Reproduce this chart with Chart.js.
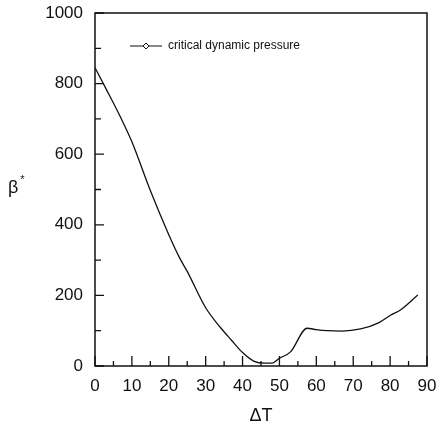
<!DOCTYPE html>
<html>
<head>
<meta charset="utf-8">
<script src="https://cdn.jsdelivr.net/npm/chart.js@4/dist/chart.umd.min.js"></script>
<style>
  html, body { margin: 0; padding: 0; background: #fff; }
  canvas { display: block; }
</style>
</head>
<body>
<canvas id="beta" width="437" height="432"></canvas>
<script>
// values
var deltaT = [0, 3, 7, 10, 15, 20, 23, 25, 30, 34, 37, 40, 43, 46, 48, 50, 53, 57.5, 60, 63, 67, 72, 77, 80, 83, 87.5];
var betaStar = [845, 785, 703, 635, 497, 372, 305, 268, 165, 109, 73, 38, 14, 8, 8, 22, 40, 107, 103, 100, 99, 105, 123, 143, 160, 201];

var xTicks = [0, 10, 20, 30, 40, 50, 60, 70, 80, 90];
var xMinor = [5, 15, 25, 35, 45, 55, 65, 75, 85];
var yTicks = [0, 200, 400, 600, 800, 1000];
var yMinor = [100, 300, 500, 700, 900];

var seriesLabel = 'critical dynamic pressure';
var xTitle = 'ΔT';
var yTitle = 'β';
var yTitleSup = '*';

var ink = '#111';
var font = 'Arial, "Liberation Sans", sans-serif';

// frame, inward ticks, axis titles and the boxed-in legend
var decorations = {
  id: 'decorations',
  afterDraw(chart) {
    var ctx = chart.ctx, a = chart.chartArea;
    var xs = chart.scales.x, ys = chart.scales.y;
    ctx.save();
    ctx.strokeStyle = ink;
    ctx.lineWidth = 1.5;
    ctx.strokeRect(a.left, a.top, a.right - a.left, a.bottom - a.top);

    ctx.lineWidth = 1.3;
    ctx.beginPath();
    xTicks.forEach(v => { var p = xs.getPixelForValue(v); ctx.moveTo(p, a.bottom); ctx.lineTo(p, a.bottom - 10); });
    xMinor.forEach(v => { var p = xs.getPixelForValue(v); ctx.moveTo(p, a.bottom); ctx.lineTo(p, a.bottom - 5); });
    yTicks.forEach(v => { var p = ys.getPixelForValue(v); ctx.moveTo(a.left, p); ctx.lineTo(a.left + 9, p); });
    yMinor.forEach(v => { var p = ys.getPixelForValue(v); ctx.moveTo(a.left, p); ctx.lineTo(a.left + 6, p); });
    ctx.stroke();

    // axis titles
    ctx.fillStyle = ink;
    ctx.textBaseline = 'middle';
    ctx.textAlign = 'center';
    ctx.font = '18px ' + font;
    ctx.fillText(xTitle, (a.left + a.right) / 2, 416);
    ctx.textAlign = 'left';
    ctx.fillText(yTitle, 8, 188);
    var bw = ctx.measureText(yTitle).width;
    ctx.font = '11px ' + font;
    ctx.fillText(yTitleSup, 8 + bw + 2, 180);

    // legend
    var ly = 46;
    ctx.lineWidth = 1;
    ctx.beginPath();
    ctx.moveTo(130, ly); ctx.lineTo(162, ly);
    ctx.stroke();
    ctx.beginPath();
    ctx.moveTo(146, ly - 3); ctx.lineTo(149, ly); ctx.lineTo(146, ly + 3); ctx.lineTo(143, ly); ctx.closePath();
    ctx.fillStyle = '#fff';
    ctx.fill();
    ctx.stroke();
    ctx.fillStyle = ink;
    ctx.font = '12px ' + font;
    ctx.fillText(seriesLabel, 168, ly);
    ctx.restore();
  }
};

new Chart('beta', {
  type: 'line',
  data: {
    datasets: [{
      label: seriesLabel,
      data: deltaT.map((x, i) => ({x: x, y: betaStar[i]})),
      borderColor: ink,
      borderWidth: 1.3,
      pointRadius: 0,
      cubicInterpolationMode: 'monotone',
      fill: false
    }]
  },
  options: {
    responsive: false,
    animation: false,
    layout: { padding: { top: 13, right: 10, left: 0, bottom: 0 } },
    plugins: { legend: { display: false }, tooltip: { enabled: false } },
    scales: {
      x: {
        type: 'linear',
        min: 0, max: 90,
        afterFit(scale) { scale.height = 66; scale.paddingLeft = 0; scale.paddingRight = 0; },
        afterBuildTicks(scale) { scale.ticks = xTicks.map(v => ({value: v})); },
        grid: { display: false, drawTicks: false },
        border: { display: false },
        ticks: { color: ink, font: { family: font, size: 17 }, padding: 10, maxRotation: 0, callback: v => String(v) }
      },
      y: {
        min: 0, max: 1000,
        afterFit(scale) { scale.width = 95; scale.paddingTop = 0; scale.paddingBottom = 0; },
        afterBuildTicks(scale) { scale.ticks = yTicks.map(v => ({value: v})); },
        grid: { display: false, drawTicks: false },
        border: { display: false },
        ticks: { color: ink, font: { family: font, size: 17 }, padding: 12, callback: v => String(v) }
      }
    }
  },
  plugins: [decorations]
});
</script>
</body>
</html>
